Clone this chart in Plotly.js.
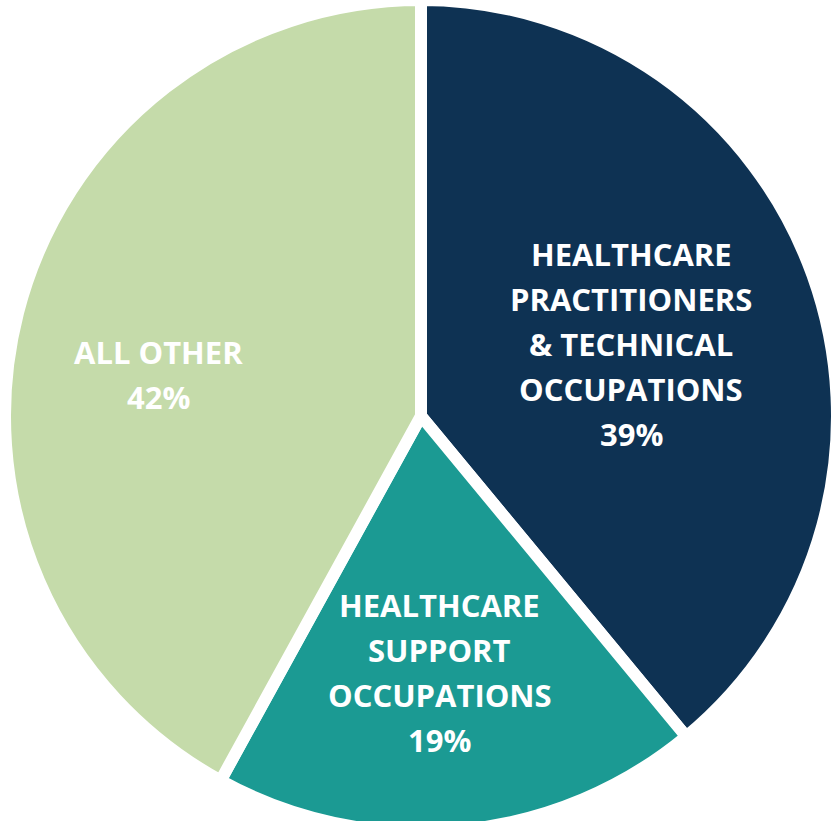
<!DOCTYPE html>
<html>
<head>
<meta charset="utf-8">
<script src="https://cdn.plot.ly/plotly-3.0.1.min.js"></script>
<style>
html,body{margin:0;padding:0;overflow:hidden;background:#fff;width:833px;height:821px;}
#chart{position:absolute;left:0;top:0;}
</style>
</head>
<body>
<div id="chart"></div>
<script>
// Data
const categories = ["HEALTHCARE<br>PRACTITIONERS<br>& TECHNICAL<br>OCCUPATIONS", "HEALTHCARE<br>SUPPORT<br>OCCUPATIONS", "ALL OTHER"];
const shares = [39, 19, 42];
const colors = ["#0E3253", "#1B9A93", "#C5DBAA"];

// Layout helpers (pixel placement of labels)
const W = 842, H = 832;
const labelCenters = [[631, 265], [440, 616], [158, 363]]; // x center, first baseline
const lineStep = 45;
const fontSize = 31;

const annotations = [];
categories.forEach((cat, i) => {
  const lines = cat.split("<br>").concat([shares[i] + "%"]);
  lines.forEach((ln, j) => {
    const base = labelCenters[i][1] + j * lineStep;
    annotations.push({
      text: ln,
      xref: "paper", yref: "paper",
      x: labelCenters[i][0] / W,
      y: 1 - (base - 11) / H,
      xanchor: "center", yanchor: "middle",
      showarrow: false,
      font: {family: "Open Sans, sans-serif", size: fontSize, color: "#ffffff", weight: 700}
    });
  });
});

const trace = {
  type: "pie",
  values: shares,
  labels: categories,
  sort: false,
  direction: "clockwise",
  rotation: 0,
  textinfo: "none",
  hoverinfo: "label+percent",
  marker: {colors: colors, line: {color: "#ffffff", width: 12}},
  showlegend: false
};

Plotly.newPlot("chart", [trace], {
  width: W, height: H,
  margin: {l: 0, r: 0, t: 0, b: 0, pad: 0},
  paper_bgcolor: "#ffffff",
  plot_bgcolor: "#ffffff",
  annotations: annotations,
  showlegend: false
}, {displayModeBar: false, staticPlot: true});
</script>
</body>
</html>
